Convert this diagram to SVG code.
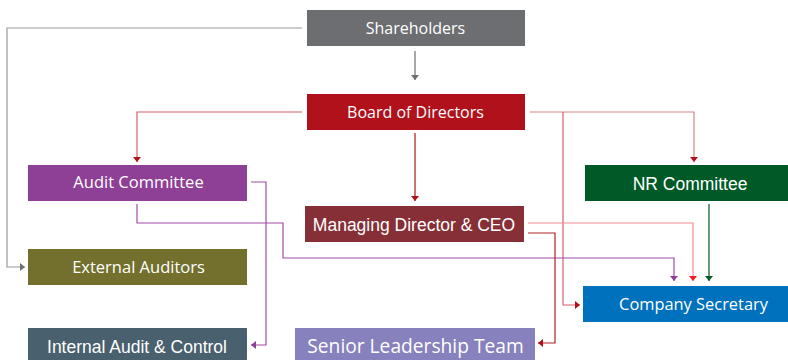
<svg xmlns="http://www.w3.org/2000/svg" width="788" height="360" viewBox="0 0 788 360">
<style>
.t{fill:#fff;text-anchor:middle;font-family:"Open Sans","DejaVu Sans",sans-serif;}
.a{fill:#fff;text-anchor:middle;font-family:"Liberation Sans",Arial,sans-serif;}
.c{fill:none;stroke-width:1.2;}
</style>
<defs>
<marker id="mGray" markerUnits="userSpaceOnUse" markerWidth="5" markerHeight="8" refX="5" refY="4" orient="auto"><path d="M0,0 L5,4 L0,8 z" fill="#6d6e71"/></marker>
<marker id="mRed" markerUnits="userSpaceOnUse" markerWidth="5" markerHeight="8" refX="5" refY="4" orient="auto"><path d="M0,0 L5,4 L0,8 z" fill="#b0111a"/></marker>
<marker id="mBright" markerUnits="userSpaceOnUse" markerWidth="5" markerHeight="8" refX="5" refY="4" orient="auto"><path d="M0,0 L5,4 L0,8 z" fill="#ed1c24"/></marker>
<marker id="mPurple" markerUnits="userSpaceOnUse" markerWidth="5" markerHeight="8" refX="5" refY="4" orient="auto"><path d="M0,0 L5,4 L0,8 z" fill="#8e3f96"/></marker>
<marker id="mGreen" markerUnits="userSpaceOnUse" markerWidth="5" markerHeight="8" refX="5" refY="4" orient="auto"><path d="M0,0 L5,4 L0,8 z" fill="#005a28"/></marker>
</defs>
<rect width="788" height="360" fill="#fff"/>
<g id="connectors">
<path class="c" d="M302,28 H7 V267 H25" stroke="#999a9c" marker-end="url(#mGray)"/>
<path class="c" d="M415,51 V80" stroke="#6d6e71" stroke-width="2" marker-end="url(#mGray)"/>
<path class="c" d="M302,112 H137 V162" stroke="#d4626a" marker-end="url(#mRed)"/>
<path class="c" d="M415,133 V201" stroke="#b0111a" stroke-width="2" marker-end="url(#mRed)"/>
<path class="c" d="M530,112 H694 V162" stroke="#d9838a" marker-end="url(#mRed)"/>
<path class="c" d="M563,112 V305 H580" stroke="#d4626a" marker-end="url(#mRed)"/>
<path class="c" d="M251,182 H266 V345 H251" stroke="#a24ba6" marker-end="url(#mPurple)"/>
<path class="c" d="M137,204 V223 H283 V258 H674 V281" stroke="#a24ba6" marker-end="url(#mPurple)"/>
<path class="c" d="M528,223 H693 V281" stroke="#f08a8f" marker-end="url(#mBright)"/>
<path class="c" d="M528,233 H555 V343 H538" stroke="#b0222a" marker-end="url(#mRed)"/>
<path class="c" d="M709,204 V281" stroke="#005a28" stroke-width="2" marker-end="url(#mGreen)"/>
</g>
<g id="shareholders"><rect x="307" y="10" width="218" height="36" fill="#6d6e71"/><text class="t" x="415.5" y="34" font-size="16">Shareholders</text></g>
<g id="board"><rect x="307" y="94" width="218" height="36" fill="#b0111a"/><text class="t" x="415.5" y="118" font-size="16">Board of Directors</text></g>
<g id="audit"><rect x="28" y="165" width="219" height="36" fill="#8e3f96"/><text class="t" x="138.5" y="188" font-size="16.5">Audit Committee</text></g>
<g id="nr"><rect x="585" y="165" width="203" height="36" fill="#005a28"/><text class="a" x="690" y="190" font-size="17.5">NR Committee</text></g>
<g id="md"><rect x="305" y="206" width="219" height="36" fill="#862f36"/><text class="a" x="414" y="231" font-size="17.5">Managing Director &amp; CEO</text></g>
<g id="external"><rect x="28" y="249" width="219" height="36" fill="#72702c"/><text class="t" x="138.5" y="273" font-size="16.5">External Auditors</text></g>
<g id="secretary"><rect x="583" y="286" width="205" height="36" fill="#0071bc"/><text class="t" x="693.5" y="310" font-size="16.4">Company Secretary</text></g>
<g id="internal"><rect x="28" y="328" width="219" height="36" fill="#49606e"/><text class="a" x="137" y="353" font-size="17.5">Internal Audit &amp; Control</text></g>
<g id="slt"><rect x="295" y="328" width="240" height="36" fill="#8781bd"/><text class="t" x="415.5" y="353" font-size="19.2">Senior Leadership Team</text></g>
</svg>
